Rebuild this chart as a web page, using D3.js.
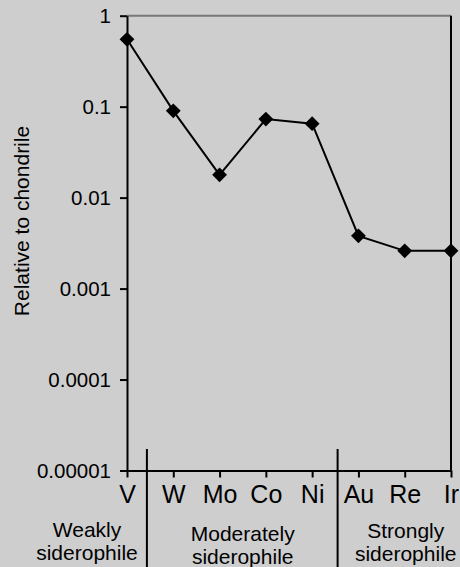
<!DOCTYPE html>
<html>
<head>
<meta charset="utf-8">
<script src="https://cdn.jsdelivr.net/npm/d3@7"></script>
<style>
  html, body { margin: 0; padding: 0; background: #cecece; }
  svg { display: block; font-family: "Liberation Sans", Arial, sans-serif; }
</style>
</head>
<body>
<script>
// data
var elements = ["V", "W", "Mo", "Co", "Ni", "Au", "Re", "Ir"];
var relChondrite = [0.55, 0.09, 0.0178, 0.073, 0.065, 0.0038, 0.0026, 0.0026];
var yTicks = [1, 0.1, 0.01, 0.001, 0.0001, 0.00001];
var yTickLabels = ["1", "0.1", "0.01", "0.001", "0.0001", "0.00001"];
var groupNames = [["Weakly", "siderophile"], ["Moderately", "siderophile"], ["Strongly", "siderophile"]];

var w = 460, h = 567;

var svg = d3.select("body").append("svg")
    .attr("width", w)
    .attr("height", h);

var x = d3.scalePoint()
    .domain(elements)
    .range([127, 451]);

var y = d3.scaleLog()
    .domain([0.00001, 1])
    .range([470.5, 15.7]);

var step = x.step();

// top frame line (grey) and right frame line
svg.append("line")
    .attr("x1", 127).attr("x2", 451)
    .attr("y1", y(1)).attr("y2", y(1))
    .attr("stroke", "#777")
    .attr("stroke-width", 2);

svg.append("line")
    .attr("x1", x("Ir")).attr("x2", x("Ir"))
    .attr("y1", y(1)).attr("y2", y(0.00001))
    .attr("stroke", "#000")
    .attr("stroke-width", 2);

// y axis
var yAxis = svg.append("g")
    .attr("transform", "translate(127,0)")
    .call(d3.axisLeft(y)
        .tickValues(yTicks)
        .tickFormat(function (d, i) { return yTickLabels[i]; })
        .tickSize(7)
        .tickSizeOuter(0)
        .tickPadding(9));

// x axis
var xAxis = svg.append("g")
    .attr("transform", "translate(0," + y(0.00001) + ")")
    .call(d3.axisBottom(x)
        .tickSize(7)
        .tickSizeOuter(0)
        .tickPadding(8));

[yAxis, xAxis].forEach(function (g) {
    g.select(".domain").attr("stroke-width", 2).attr("stroke", "#000");
    g.selectAll(".tick line").attr("stroke-width", 2).attr("stroke", "#000");
    g.selectAll(".tick text").attr("fill", "#000").attr("font-family", "'Liberation Sans', Arial, sans-serif");
});
yAxis.selectAll(".tick text").attr("font-size", 20.5);
xAxis.selectAll(".tick text").attr("font-size", 25);

// y label
svg.append("text")
    .attr("transform", "translate(29,221) rotate(-90)")
    .attr("text-anchor", "middle")
    .attr("font-size", 21)
    .text("Relative to chondrile");

// group separators
var sepX = [x("V") + 0.43 * step, x("Ni") + 0.55 * step];
svg.selectAll("line.sep")
    .data(sepX)
    .enter()
    .append("line")
    .attr("class", "sep")
    .attr("x1", function (d) { return d; })
    .attr("x2", function (d) { return d; })
    .attr("y1", 449)
    .attr("y2", h)
    .attr("stroke", "#000")
    .attr("stroke-width", 2);

// group labels
var groupX = [x("V") - 40, (x("Mo") + x("Co")) / 2, x("Re") + 1];
var groupY = [537, 541, 538];
groupNames.forEach(function (lines, i) {
    var t = svg.append("text")
        .attr("text-anchor", "middle")
        .attr("font-size", 21)
        .attr("x", groupX[i])
        .attr("y", groupY[i]);
    lines.forEach(function (s, j) {
        t.append("tspan")
            .attr("x", groupX[i])
            .attr("dy", j === 0 ? 0 : 22.5)
            .text(s);
    });
});

// data line
var line = d3.line()
    .x(function (d, i) { return x(elements[i]); })
    .y(function (d) { return y(d); });

svg.append("path")
    .datum(relChondrite)
    .attr("d", line)
    .attr("fill", "none")
    .attr("stroke", "#000")
    .attr("stroke-width", 2);

// diamond markers
svg.selectAll("path.mark")
    .data(relChondrite)
    .enter()
    .append("path")
    .attr("class", "mark")
    .attr("d", d3.symbol().type(d3.symbolSquare).size(110))
    .attr("transform", function (d, i) {
        return "translate(" + x(elements[i]) + "," + y(d) + ") rotate(45)";
    })
    .attr("fill", "#000");
</script>
</body>
</html>
